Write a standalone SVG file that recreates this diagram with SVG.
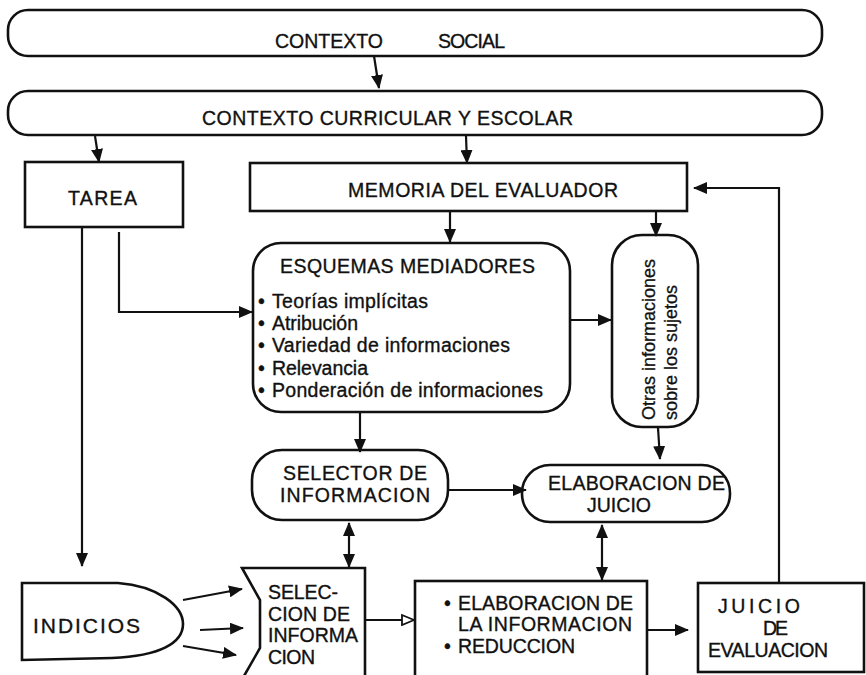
<svg xmlns="http://www.w3.org/2000/svg" width="866" height="675" viewBox="0 0 866 675">
<style>
.box{fill:none;stroke:#111;stroke-width:2.6}
.ln{fill:none;stroke:#111;stroke-width:2.2}
.t{font-family:"Liberation Sans",Arial,Helvetica,sans-serif;font-size:19.5px;fill:#111;stroke:#111;stroke-width:0.35}
.v{font-family:"Liberation Sans",Arial,Helvetica,sans-serif;font-size:18px;fill:#111;stroke:#111;stroke-width:0.3}
</style>
<defs>
<marker id="a" viewBox="0 0 14 12" refX="13" refY="6" markerWidth="14" markerHeight="12" markerUnits="userSpaceOnUse" orient="auto-start-reverse">
<path d="M0,0 L14,6 L0,12 Z" fill="#111"/>
</marker>
<marker id="h" viewBox="0 0 14 12" refX="13" refY="6" markerWidth="14" markerHeight="12" markerUnits="userSpaceOnUse" orient="auto">
<path d="M1,1 L13,6 L1,11 Z" fill="#fff" stroke="#111" stroke-width="1.8"/>
</marker>
</defs>
<rect width="866" height="675" fill="#fff"/>

<g id="connectors">
<path class="ln" d="M374,56 L379,88" marker-end="url(#a)"/>
<path class="ln" d="M95,136 L99,162" marker-end="url(#a)"/>
<path class="ln" d="M466,136 L467,163" marker-end="url(#a)"/>
<path class="ln" d="M450,211 L450,242" marker-end="url(#a)"/>
<path class="ln" d="M656,211 L656,236" marker-end="url(#a)"/>
<path class="ln" d="M119,232 L119,312 L252,312" marker-end="url(#a)"/>
<path class="ln" d="M82,227 L82,566" marker-end="url(#a)"/>
<path class="ln" d="M570,320 L611,320" marker-end="url(#a)"/>
<path class="ln" d="M360,412 L360,452" marker-end="url(#a)"/>
<path class="ln" d="M658,428 L660,459" marker-end="url(#a)"/>
<path class="ln" d="M448,490 L526,490" marker-end="url(#a)"/>
<path class="ln" d="M349,523 L349,567" marker-start="url(#a)" marker-end="url(#a)"/>
<path class="ln" d="M602,525 L602,580" marker-start="url(#a)" marker-end="url(#a)"/>
<path class="ln" d="M183,600 L242,589" marker-end="url(#a)"/>
<path class="ln" d="M200,630 L243,628" marker-end="url(#a)"/>
<path class="ln" d="M183,646 L236,655" marker-end="url(#a)"/>
<path class="ln" d="M365,620 L414,620" marker-end="url(#h)"/>
<path class="ln" d="M647,630 L688,630" marker-end="url(#a)"/>
<path class="ln" d="M779,583 L779,188 L694,188" marker-end="url(#a)"/>
</g>

<g id="contexto-social">
<rect class="box" x="8" y="10" width="814" height="46" rx="20"/>
<text class="t" x="275" y="48" textLength="108" lengthAdjust="spacing">CONTEXTO</text>
<text class="t" x="438" y="48" textLength="67" lengthAdjust="spacing">SOCIAL</text>
</g>

<g id="contexto-curricular">
<rect class="box" x="8" y="91" width="814" height="44" rx="20"/>
<text class="t" x="202" y="125" textLength="371" lengthAdjust="spacing">CONTEXTO CURRICULAR Y ESCOLAR</text>
</g>

<g id="tarea">
<rect class="box" x="25" y="162" width="158" height="65"/>
<text class="t" x="68" y="205" textLength="69" lengthAdjust="spacing">TAREA</text>
</g>

<g id="memoria">
<rect class="box" x="250" y="163" width="437" height="48"/>
<text class="t" x="348" y="197" textLength="270" lengthAdjust="spacing">MEMORIA DEL EVALUADOR</text>
</g>

<g id="esquemas">
<rect class="box" x="253" y="243" width="317" height="169" rx="28"/>
<text class="t" x="280" y="273" textLength="255" lengthAdjust="spacing">ESQUEMAS MEDIADORES</text>
<text class="t" x="258" y="308">•</text>
<text class="t" x="272" y="308" textLength="156" lengthAdjust="spacing">Teorías implícitas</text>
<text class="t" x="258" y="330">•</text>
<text class="t" x="272" y="330" textLength="86" lengthAdjust="spacing">Atribución</text>
<text class="t" x="258" y="352">•</text>
<text class="t" x="272" y="352" textLength="238" lengthAdjust="spacing">Variedad de informaciones</text>
<text class="t" x="258" y="375">•</text>
<text class="t" x="272" y="375" textLength="96" lengthAdjust="spacing">Relevancia</text>
<text class="t" x="258" y="397">•</text>
<text class="t" x="272" y="397" textLength="271" lengthAdjust="spacing">Ponderación de informaciones</text>
</g>

<g id="otras-informaciones">
<rect class="box" x="612" y="235" width="86" height="192" rx="30"/>
<text class="v" transform="translate(655,420) rotate(-90)">Otras informaciones</text>
<text class="v" transform="translate(677,420) rotate(-90)">sobre los sujetos</text>
</g>

<g id="selector">
<rect class="box" x="252" y="450" width="196" height="70" rx="30"/>
<text class="t" x="283" y="480" textLength="144" lengthAdjust="spacing">SELECTOR DE</text>
<text class="t" x="280" y="502" textLength="150" lengthAdjust="spacing">INFORMACION</text>
</g>

<g id="elaboracion-juicio">
<rect class="box" x="522" y="465" width="208" height="57" rx="28"/>
<text class="t" x="548" y="490" textLength="177" lengthAdjust="spacing">ELABORACION DE</text>
<text class="t" x="587" y="512" textLength="64" lengthAdjust="spacing">JUICIO</text>
</g>

<g id="indicios">
<path class="box" d="M22,583 L118,583 C158,586 183,606 183,624 C183,643 160,656 112,658 L22,660 Z"/>
<text class="t" x="33" y="633" style="font-size:21px" textLength="107" lengthAdjust="spacing">INDICIOS</text>
</g>

<g id="seleccion">
<path class="box" d="M242,568 L365,568 L365,690 L236,690 L260,648 L260,600 Z"/>
<text class="t" x="268" y="599" textLength="70" lengthAdjust="spacing">SELEC-</text>
<text class="t" x="268" y="621" textLength="82" lengthAdjust="spacing">CION DE</text>
<text class="t" x="268" y="642" textLength="90" lengthAdjust="spacing">INFORMA</text>
<text class="t" x="268" y="664" textLength="47" lengthAdjust="spacing">CION</text>
</g>

<g id="elaboracion-informacion">
<rect class="box" x="415" y="581" width="232" height="110"/>
<text class="t" x="444" y="610">•</text>
<text class="t" x="458" y="610" textLength="175" lengthAdjust="spacing">ELABORACION DE</text>
<text class="t" x="458" y="631" textLength="174" lengthAdjust="spacing">LA INFORMACION</text>
<text class="t" x="444" y="653">•</text>
<text class="t" x="458" y="653" textLength="117" lengthAdjust="spacing">REDUCCION</text>
</g>

<g id="juicio-evaluacion">
<rect class="box" x="698" y="583" width="166" height="89"/>
<text class="t" x="718" y="613" textLength="82" lengthAdjust="spacing">JUICIO</text>
<text class="t" x="763" y="635" textLength="25" lengthAdjust="spacing">DE</text>
<text class="t" x="708" y="657" textLength="120" lengthAdjust="spacing">EVALUACION</text>
</g>
</svg>
